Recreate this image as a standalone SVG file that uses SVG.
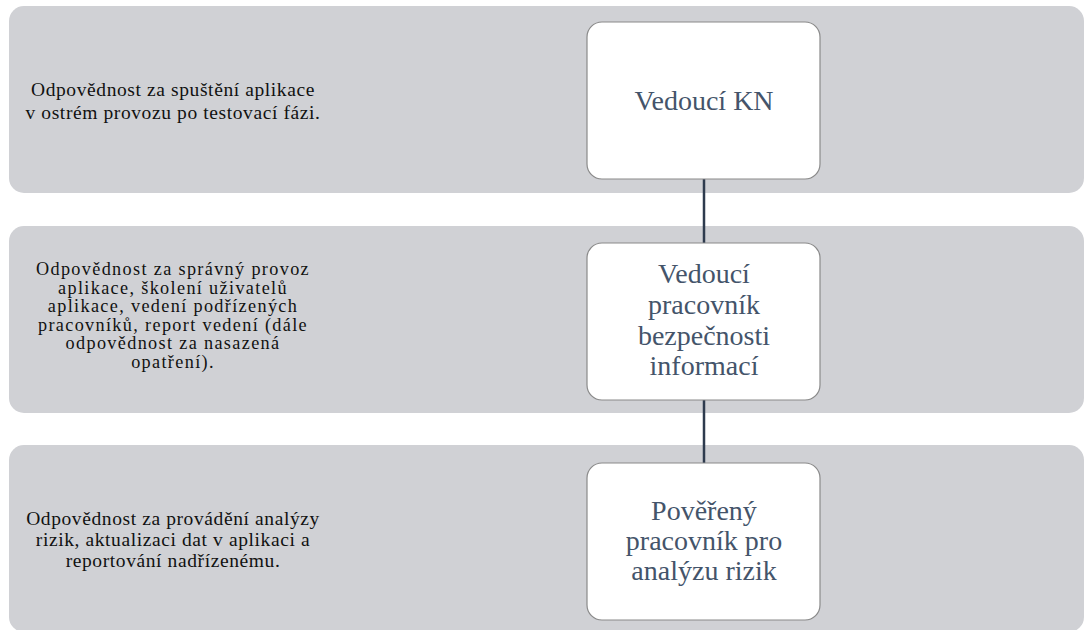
<svg xmlns="http://www.w3.org/2000/svg" width="1089" height="630" viewBox="0 0 1089 630">
<style>
.band{fill:#d0d1d5;}
.node{fill:#ffffff;stroke:#8a8a8a;stroke-width:1.2;}
.desc{font-family:'Liberation Serif','Times New Roman',serif;font-size:19.5px;letter-spacing:0.6px;fill:#111111;text-anchor:middle;}
.dense{font-size:18.2px;letter-spacing:1.35px;}
.lbl{font-family:'Liberation Serif','Times New Roman',serif;font-size:28px;fill:#44546a;text-anchor:middle;}
.conn{stroke:#2e3b4e;stroke-width:2.5;fill:none;}
</style>
<rect width="1089" height="630" fill="#ffffff"/>
<g id="band1"><rect class="band" x="9" y="6" width="1075" height="187" rx="15"/>
<text class="desc"><tspan x="173" y="96">Odpovědnost za spuštění aplikace</tspan><tspan x="173" y="119">v ostrém provozu po testovací fázi.</tspan></text></g>
<g id="band2"><rect class="band" x="9" y="226" width="1075" height="187" rx="15"/>
<text class="desc dense"><tspan x="173" y="275">Odpovědnost za správný provoz</tspan><tspan x="173" y="293.6">aplikace, školení uživatelů</tspan><tspan x="173" y="312.2">aplikace, vedení podřízených</tspan><tspan x="173" y="330.8">pracovníků, report vedení (dále</tspan><tspan x="173" y="349.4">odpovědnost za nasazená</tspan><tspan x="173" y="368">opatření).</tspan></text></g>
<g id="band3"><rect class="band" x="9" y="445" width="1075" height="187" rx="15"/>
<text class="desc"><tspan x="173" y="525">Odpovědnost za provádění analýzy</tspan><tspan x="173" y="546">rizik, aktualizaci dat v aplikaci a</tspan><tspan x="173" y="567">reportování nadřízenému.</tspan></text></g>
<g id="connectors">
<line class="conn" x1="704" y1="179" x2="704" y2="243"/>
<line class="conn" x1="704" y1="400" x2="704" y2="463"/>
</g>
<g id="node1"><rect class="node" x="587" y="22" width="233" height="157" rx="15"/>
<text class="lbl" x="704" y="110">Vedoucí KN</text></g>
<g id="node2"><rect class="node" x="587" y="243" width="233" height="157" rx="15"/>
<text class="lbl"><tspan x="704" y="283">Vedoucí</tspan><tspan x="704" y="314">pracovník</tspan><tspan x="704" y="345">bezpečnosti</tspan><tspan x="704" y="375">informací</tspan></text></g>
<g id="node3"><rect class="node" x="587" y="463" width="233" height="157" rx="15"/>
<text class="lbl"><tspan x="704" y="520">Pověřený</tspan><tspan x="704" y="550">pracovník pro</tspan><tspan x="704" y="580">analýzu rizik</tspan></text></g>
</svg>
